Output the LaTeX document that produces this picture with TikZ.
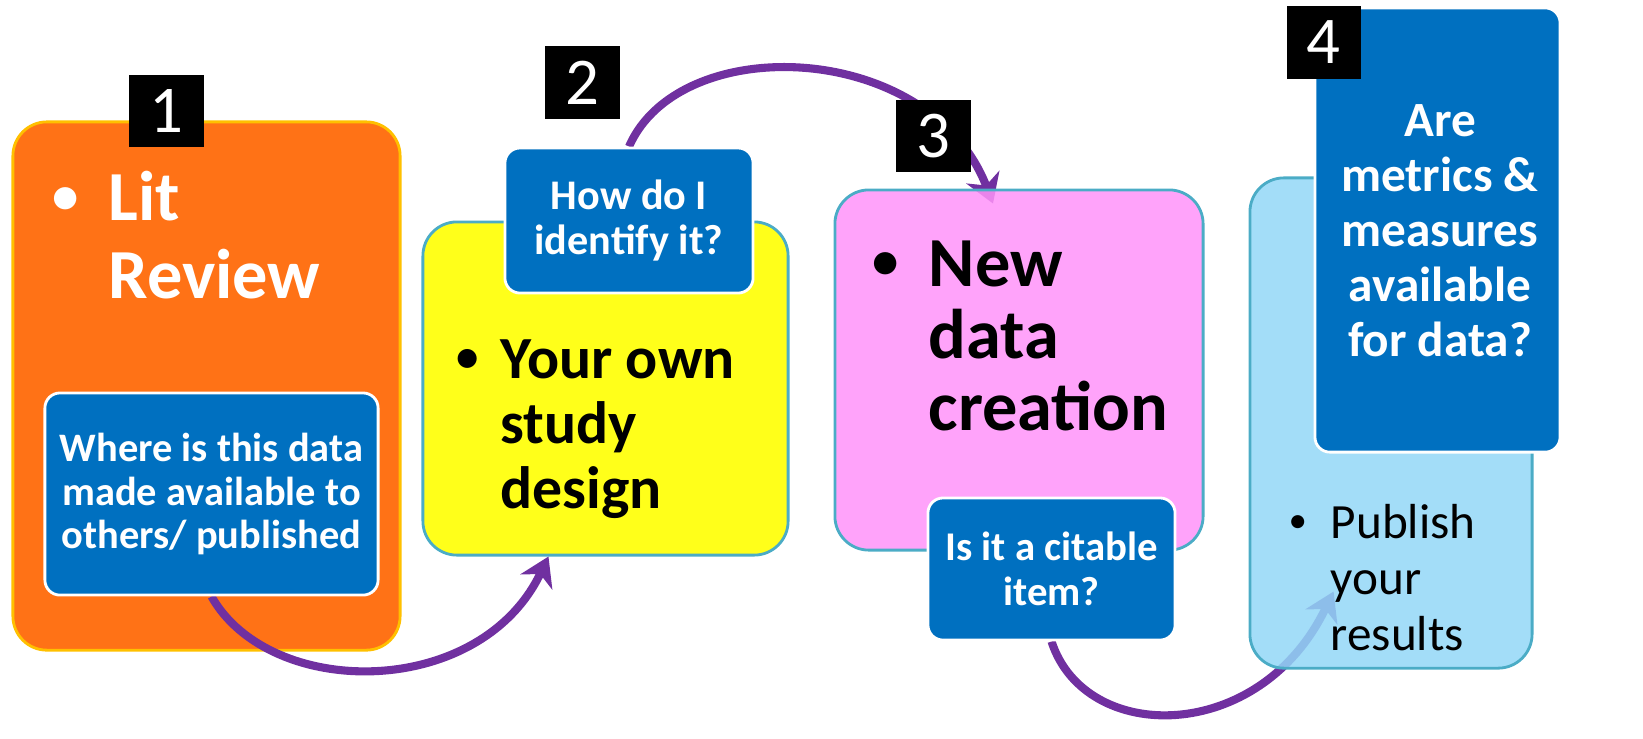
\documentclass[tikz,border=0pt]{standalone}
\usepackage{fontspec}
\setmainfont{Carlito}
\usepackage{tikz}
\usetikzlibrary{arrows.meta}

\definecolor{litorange}{RGB}{255,114,22}
\definecolor{litgold}{RGB}{255,192,0}
\definecolor{askblue}{RGB}{0,112,192}
\definecolor{designyellow}{RGB}{255,255,26}
\definecolor{framecyan}{RGB}{75,172,198}
\definecolor{newpink}{RGB}{255,147,249}
\definecolor{publishblue}{RGB}{147,215,247}
\definecolor{flowpurple}{RGB}{112,48,160}

\newcommand{\smallbullet}{\hspace{0.06em}\raisebox{0.11em}{\scalebox{0.75}{\textbullet}}}

\pgfdeclarelayer{back}
\pgfdeclarelayer{flow}
\pgfsetlayers{back,flow,main}

\tikzset{
  stagebox/.style={draw=framecyan, line width=0.8pt, rounded corners=0.34cm, inner sep=0pt},
  askbox/.style={fill=askblue, draw=white, line width=0.8pt, rounded corners=0.15cm,
                 text=white, align=center, inner sep=0pt},
  numbox/.style={fill=black, text=white, inner sep=0pt, minimum width=0.74cm, minimum height=0.72cm,
                 font=\fontsize{19}{20}\selectfont},
  flowarrow/.style={draw=flowpurple, line width=2.3pt, -{Stealth[length=8pt,width=10pt,inset=2.5pt]}},
}

\begin{document}
\begin{tikzpicture}[x=0.01cm,y=-0.01cm]

        % Stage boxes that sit under the purple arcs
        \begin{pgfonlayer}{back}
        \node[stagebox, draw=litgold, fill=litorange, minimum width=3.87cm, minimum height=5.28cm] (lit) at (206.5,386) {};
        \node[stagebox, fill=designyellow, minimum width=3.65cm, minimum height=3.33cm] (design) at (605.5,388.5) {};
        \end{pgfonlayer}

        % Stage boxes that let the arcs show through
        \node[stagebox, fill=newpink, fill opacity=0.85, minimum width=3.68cm, minimum height=3.60cm] (creation) at (1019,370) {};
        \node[stagebox, fill=publishblue, fill opacity=0.85, minimum width=2.82cm, minimum height=4.90cm] (publish) at (1391,423) {};

        % Bullet texts
        \node[anchor=north west, inner sep=0pt, text=white, font=\bfseries\fontsize{20}{22}\selectfont] (littext) at (48,166)
            {\begin{tabular}{@{}p{0.60cm}@{}l@{}}\smallbullet & Lit\\ & Review\end{tabular}};
        \node[anchor=north west, inner sep=0pt, font=\bfseries\fontsize{17}{18.5}\selectfont] (designtext) at (452,332)
            {\begin{tabular}{@{}p{0.48cm}@{}l@{}}\smallbullet & Your own\\ & study\\ & design\end{tabular}};
        \node[anchor=north west, inner sep=0pt, font=\bfseries\fontsize{20}{20.5}\selectfont] (creationtext) at (868,235)
            {\begin{tabular}{@{}p{0.60cm}@{}l@{}}\smallbullet & New\\ & data\\ & creation\end{tabular}};
        \node[anchor=north west, inner sep=0pt, font=\fontsize{14}{16}\selectfont] (publishtext) at (1285,498)
            {\begin{tabular}{@{}p{0.45cm}@{}l@{}}\smallbullet & Publish\\ & your\\ & results\end{tabular}};

        % Question boxes
        \node[askbox, minimum width=3.33cm, minimum height=2.02cm, font=\bfseries\fontsize{11.5}{12.3}\selectfont] (where) at (211.5,494)
            {Where is this data\\made available to\\others/ published};
        \node[askbox, minimum width=2.48cm, minimum height=1.45cm, font=\bfseries\fontsize{12}{12.8}\selectfont] (how) at (629,220.5)
            {How do I\\identify it?};
        \node[askbox, minimum width=2.47cm, minimum height=1.42cm, font=\bfseries\fontsize{11.6}{12.8}\selectfont] (citable) at (1051.5,569)
            {Is it a citable\\item?};
        \node[askbox, minimum width=2.45cm, minimum height=4.44cm] (metrics) at (1437.5,230) {};
        \node[anchor=north, inner sep=0pt, text=white, align=center, font=\bfseries\fontsize{14}{15.6}\selectfont] (metricstext) at (1440,104)
            {Are\\metrics \&\\measures\\available\\for data?};

        % Step numbers
        \node[numbox] (one) at (166.5,111) {1};
        \node[numbox] (two) at (582.5,82.5) {2};
        \node[numbox] (three) at (933.5,136) {3};
        \node[numbox] (four) at (1323.5,42.5) {4};

        % Purple arcs from one step to the next
        \begin{pgfonlayer}{flow}
        \draw[flowarrow] (where.south) .. controls (270,700) and (480,700) .. ([xshift=-0.57cm]design.south);
        \draw[flowarrow] (how.north) .. controls (680,30) and (930,40) .. ([xshift=-0.26cm,yshift=-0.15cm]creation.north);
        \draw[flowarrow] (citable.south) .. controls (1085,745) and (1260,745) .. ([xshift=0.85cm,yshift=0.78cm]publish.south west);
        \end{pgfonlayer}

        \pgfresetboundingbox
        \path[use as bounding box] (0,0) rectangle (1643,738);
\end{tikzpicture}
\end{document}
